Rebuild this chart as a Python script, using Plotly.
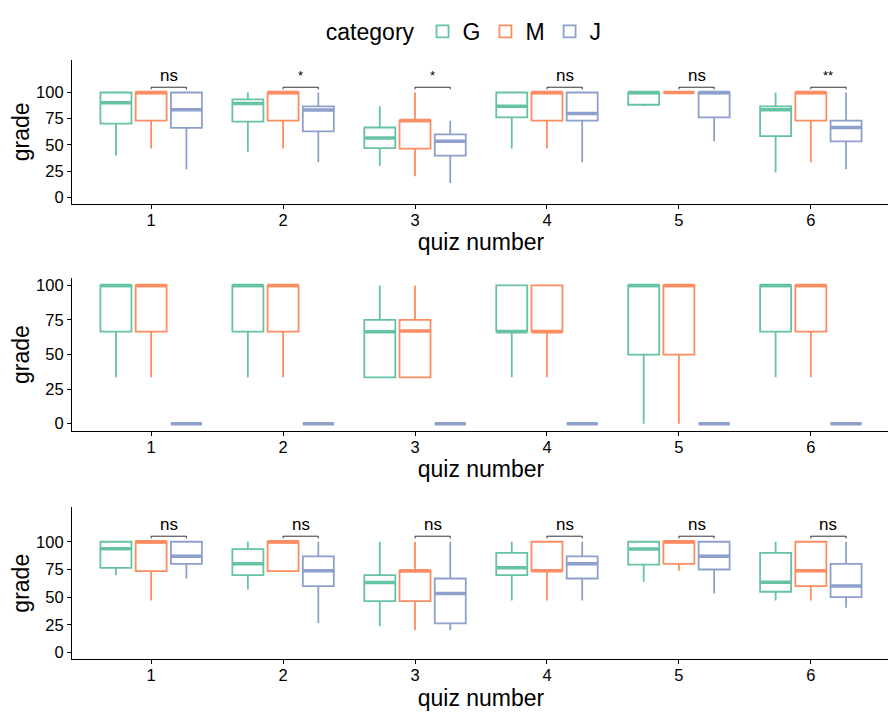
import plotly.graph_objects as go

quizzes = [1, 2, 3, 4, 5, 6]
categories = ["G", "M", "J"]
colors = {"G": "#66C2A5", "M": "#FC8D62", "J": "#8DA0CB"}

# Panel 1 stats per category
p1_G = dict(lo=[40, 43.5, 30, 46.7, 86.8, 23.7], q1=[70.3, 72.2, 47, 76.3, 88.3, 58.4],
            med=[90.2, 89.6, 56.5, 86.8, 100, 83.6], q3=[100, 93.4, 66.6, 100, 100, 86.8],
            hi=[100, 100, 86.8, 100, 100, 100])
p1_M = dict(lo=[46.7, 46.7, 20, 46.7, 100, 33.4], q1=[73.2, 73.2, 46.4, 73.2, 100, 73.2],
            med=[100, 100, 73.2, 100, 100, 100], q3=[100, 100, 73.5, 100, 100, 100],
            hi=[100, 100, 100, 100, 100, 100])
p1_J = dict(lo=[26.8, 33.4, 13.6, 33.4, 53.6, 26.8], q1=[66.2, 63, 39.7, 73.2, 76.3, 53.3],
            med=[83.6, 83.3, 53.6, 80, 100, 66.6], q3=[100, 86.8, 60, 100, 100, 73.2],
            hi=[100, 100, 73, 100, 100, 100])
p1_labels = ["ns", "*", "*", "ns", "ns", "**"]

# Panel 2
p2_G = dict(lo=[33.5, 33.5, 33.5, 33.5, 0, 33.5], q1=[66.5, 66.5, 33.5, 66.5, 50, 66.5],
            med=[100, 100, 66.5, 66.5, 100, 100], q3=[100, 100, 75, 100, 100, 100],
            hi=[100, 100, 100, 100, 100, 100])
p2_M = dict(lo=[33.5, 33.5, 33.5, 33.5, 0, 33.5], q1=[66.5, 66.5, 33.5, 66.5, 50, 66.5],
            med=[100, 100, 67, 66.5, 100, 100], q3=[100, 100, 75, 100, 100, 100],
            hi=[100, 100, 100, 100, 100, 100])
p2_J = dict(lo=[0, 0, 0, 0, 0, 0], q1=[0, 0, 0, 0, 0, 0], med=[0, 0, 0, 0, 0, 0],
            q3=[0, 0, 0, 0, 0, 0], hi=[0, 0, 0, 0, 0, 0])

# Panel 3
p3_G = dict(lo=[69.8, 56.9, 23.7, 47, 63.8, 47], q1=[76.3, 69.8, 46.4, 69.8, 79.3, 54.8],
            med=[93.7, 80, 63.2, 76.6, 93.4, 63.5], q3=[100, 93.4, 69.8, 90, 100, 90],
            hi=[100, 100, 100, 100, 100, 100])
p3_M = dict(lo=[47, 73.4, 20, 47, 73.7, 47], q1=[73.4, 73.4, 46.4, 73.7, 80, 59.9],
            med=[100, 100, 73.7, 73.7, 100, 73.7], q3=[100, 100, 73.9, 100, 100, 100],
            hi=[100, 100, 100, 100, 100, 100])
p3_J = dict(lo=[66.8, 26.6, 20, 47, 53.3, 40.4], q1=[80, 59.9, 26.3, 66.8, 74.9, 50],
            med=[86.8, 73.7, 53.3, 80, 86.8, 59.9], q3=[100, 86.8, 66.8, 86.8, 100, 80],
            hi=[100, 100, 100, 100, 100, 100])
p3_labels = ["ns", "ns", "ns", "ns", "ns", "ns"]

panels = [
    dict(data={"G": p1_G, "M": p1_M, "J": p1_J}, labels=p1_labels, yr=[-6.25, 131.25]),
    dict(data={"G": p2_G, "M": p2_M, "J": p2_J}, labels=None, yr=[-5, 105]),
    dict(data={"G": p3_G, "M": p3_M, "J": p3_J}, labels=p3_labels, yr=[-6.25, 131.25]),
]

# page body has an 8px margin; figure is sized to fit the remaining window
OFF = 8
W, H = 896 - OFF, 715 - OFF
offsets = {"G": -0.267, "M": 0.0, "J": 0.267}
bw = 0.235
domains_px = [(58, 203), (278, 431), (508, 661)]
x_px = (72, 890)

fig = go.Figure()
FONT = "Liberation Sans, Arial, Helvetica, sans-serif"
TICK = 16.5
TITLE = 23

for i, p in enumerate(panels):
    sfx = "" if i == 0 else str(i + 1)
    xa, ya = "x" + sfx, "y" + sfx
    for c in categories:
        d = p["data"][c]
        xs = [q + offsets[c] for q in quizzes]
        fig.add_trace(go.Box(
            x=xs, q1=d["q1"], median=d["med"], q3=d["q3"],
            lowerfence=d["lo"], upperfence=d["hi"],
            width=bw, fillcolor="white", whiskerwidth=0,
            line=dict(color=colors[c], width=1.8), boxpoints=False,
            name=c, legendgroup=c, showlegend=(i == 0),
            xaxis=xa, yaxis=ya, hoverinfo="skip"))
        mx, my = [], []
        for x, m in zip(xs, d["med"]):
            mx += [x - bw / 2, x + bw / 2, None]
            my += [m, m, None]
        fig.add_trace(go.Scatter(x=mx, y=my, mode="lines",
                                 line=dict(color=colors[c], width=3.5),
                                 showlegend=False, xaxis=xa, yaxis=ya, hoverinfo="skip"))
    if p["labels"]:
        bx, by = [], []
        for q in quizzes:
            x0, x1 = q + offsets["M"], q + offsets["J"]
            bx += [x0, x0, x1, x1, None]
            by += [103, 105, 105, 103, None]
        fig.add_trace(go.Scatter(x=bx, y=by, mode="lines", line=dict(color="black", width=0.8),
                                 showlegend=False, xaxis=xa, yaxis=ya, hoverinfo="skip"))
        tx = [q + (offsets["M"] + offsets["J"]) / 2 for q in quizzes]
        for x, l in zip(tx, p["labels"]):
            fig.add_annotation(x=x, y=105, text=l, showarrow=False, xref=xa, yref=ya,
                               yanchor="bottom", yshift=(0 if l == "ns" else 2),
                               font=dict(size=(17 if l == "ns" else 13), color="black", family=FONT))
    top, bot = domains_px[i]
    xkey = "xaxis" + sfx
    ykey = "yaxis" + sfx
    fig.layout[xkey] = dict(domain=[(x_px[0] - OFF) / W, min(1, (x_px[1] - OFF) / W)],
                            range=[0.4, 6.6], anchor=ya,
                            tickvals=quizzes, ticktext=[str(q) for q in quizzes],
                            showline=True, linecolor="black", linewidth=1.2,
                            ticks="outside", ticklen=4, tickcolor="black", tickwidth=1.2,
                            showgrid=False, zeroline=False, ticklabelstandoff=-3,
                            tickfont=dict(size=TICK, color="black", family=FONT),
                            title=dict(text="quiz number", standoff=6,
                                       font=dict(size=TITLE, color="black", family=FONT)))
    fig.layout[ykey] = dict(domain=[1 - (bot - OFF) / H, 1 - (top - OFF) / H], range=p["yr"], anchor=xa,
                            tickvals=[0, 25, 50, 75, 100],
                            showline=True, linecolor="black", linewidth=1.2,
                            ticks="outside", ticklen=4, tickcolor="black", tickwidth=1.2,
                            showgrid=False, zeroline=False,
                            tickfont=dict(size=TICK, color="black", family=FONT),
                            title=dict(text="grade", standoff=10,
                                       font=dict(size=TITLE, color="black", family=FONT)))

fig.update_layout(
    width=W, height=H, margin=dict(l=0, r=0, t=0, b=0),
    plot_bgcolor="white", paper_bgcolor="white",
    font=dict(family=FONT, color="black"),
    legend=dict(orientation="h", x=0.515, xanchor="center", y=1.0, yanchor="top",
                title=dict(text="category", font=dict(size=TITLE, family=FONT)),
                font=dict(size=TITLE, family=FONT), itemwidth=30),
)

fig.write_html("out.html")
